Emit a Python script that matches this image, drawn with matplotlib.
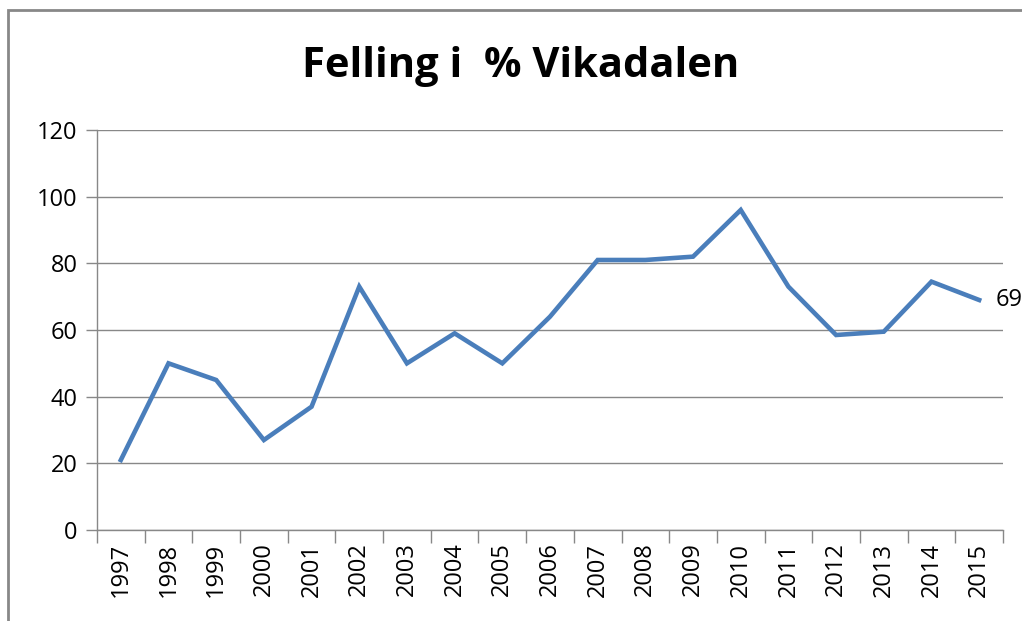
import matplotlib.pyplot as plt
from matplotlib.patches import Rectangle

# Data
years = [str(y) for y in range(1997, 2016)]
felling = [21, 50, 45, 27, 37, 73, 50, 59, 50, 64, 81, 81, 82, 96, 73, 58.5, 59.5, 74.5, 69]
y_ticks = [0, 20, 40, 60, 80, 100, 120]

grey = "#888888"
blue = "#4A7EBB"
plt.rcParams['font.family'] = ['Open Sans', 'DejaVu Sans']

fig = plt.figure(figsize=(10.22, 6.21), dpi=100)
ax = fig.add_axes([0.0949, 0.1465, 0.8865, 0.6442])

x = list(range(len(years)))
ax.plot(x, felling, color=blue, lw=3.3, solid_joinstyle='miter')

# label on the last point
ax.annotate(f"{felling[-1]:g}", (x[-1], felling[-1]), xytext=(12, 0),
            textcoords='offset points', va='center', ha='left',
            fontsize=17, annotation_clip=False)

ax.set_xlim(-0.5, len(years) - 0.5)
ax.set_ylim(0, 120)
ax.set_yticks(y_ticks)
ax.yaxis.grid(True, color=grey, lw=1)
ax.set_axisbelow(True)

ax.set_xticks(x)
ax.set_xticklabels(years, rotation=90, fontsize=17)
ax.set_xticks([i - 0.5 for i in range(len(years) + 1)], minor=True)
ax.tick_params(axis='x', which='major', length=0, pad=9)
ax.tick_params(axis='x', which='minor', length=9, color=grey, width=1)
ax.tick_params(axis='y', length=8, color=grey, width=1, labelsize=17, pad=6)

for s in ['top', 'right']:
    ax.spines[s].set_visible(False)
for s in ['left', 'bottom']:
    ax.spines[s].set_color(grey)
    ax.spines[s].set_linewidth(1)

fig.text(0.509, 0.893, "Felling i  % Vikadalen", ha='center', va='center',
         fontsize=30, fontweight='bold')

# outer chart frame, cut off at right and bottom
fig.patches.append(Rectangle((0.008, -0.1), 1.2, 1.084, transform=fig.transFigure,
                             fill=False, edgecolor=grey, lw=2))

fig.savefig("out.png", dpi=100)
